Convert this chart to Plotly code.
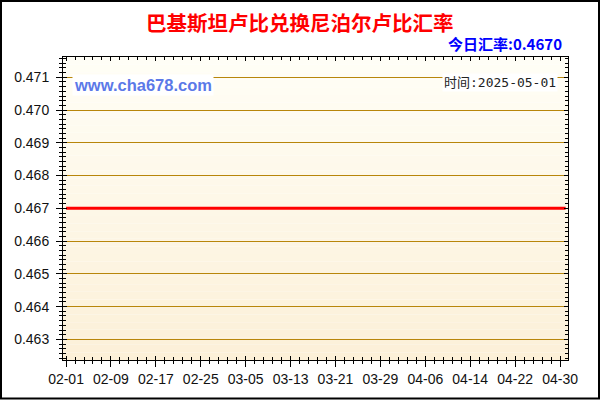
import plotly.graph_objects as go

# 巴基斯坦卢比兑换尼泊尔卢比汇率 (2025-02-01 ~ 2025-05-01)
dates = ["2025-02-01", "2025-02-09", "2025-02-17", "2025-02-25", "2025-03-05",
         "2025-03-13", "2025-03-21", "2025-03-29", "2025-04-06", "2025-04-14",
         "2025-04-22", "2025-04-30", "2025-05-01"]
rates = [0.467, 0.467, 0.467, 0.467, 0.467, 0.467, 0.467,
         0.467, 0.467, 0.467, 0.467, 0.467, 0.467]
today_rate = "0.4670"
today_date = "2025-05-01"

W, H = 600, 400
L, R, T, B = 63, 32, 57, 40
pw, ph = W - L - R, H - T - B

def px_x(x):
    return (x - L) / pw

def px_y(y):
    return (H - B - y) / ph

font_main = "Liberation Sans, Arial, Noto Sans CJK SC"
font_cjk = "Noto Sans CJK SC, Liberation Sans"

xrange_ = ["2025-01-31 11:00", "2025-05-01 10:00"]
yrange_ = [0.46237, 0.47162]
day = 86400000

fig = go.Figure()
fig.add_trace(go.Scatter(x=dates, y=rates, mode="lines",
                         line=dict(color="#ff0000", width=3),
                         hoverinfo="skip", showlegend=False))
# dummy trace so the overlay axes (inner ticks) get drawn
fig.add_trace(go.Scatter(x=[dates[0]], y=[rates[0]], xaxis="x2", yaxis="y2",
                         mode="markers", marker=dict(opacity=0),
                         hoverinfo="skip", showlegend=False))

# gradient background as horizontal bands
shapes = []
n = 40
c0 = (255, 254, 246)
c1 = (252, 240, 216)
for i in range(n):
    t = i / (n - 1)
    col = tuple(round(c0[k] + (c1[k] - c0[k]) * t) for k in range(3))
    shapes.append(dict(type="rect", xref="paper", yref="paper",
                       x0=0, x1=1, y0=1 - (i + 1) / n, y1=1 - i / n,
                       fillcolor="rgb(%d,%d,%d)" % col, line=dict(width=0),
                       layer="below"))
# outer frame of the picture
shapes.append(dict(type="rect", xref="paper", yref="paper",
                   x0=px_x(1), x1=px_x(599), y0=px_y(398.5), y1=px_y(1),
                   line=dict(color="black", width=2)))

fig.update_layout(
    width=W, height=H,
    margin=dict(l=L, r=R, t=T, b=B),
    paper_bgcolor="white",
    plot_bgcolor="rgba(0,0,0,0)",
    shapes=shapes,
    showlegend=False,
    xaxis=dict(type="date", range=xrange_, tick0="2025-02-01", dtick=8 * day,
               tickformat="%m-%d", ticks="outside", ticklen=6, tickcolor="black",
               tickfont=dict(family=font_main, size=14, color="#111"),
               showgrid=False, showline=True, linecolor="black", linewidth=1,
               zeroline=False,
               minor=dict(ticks="outside", ticklen=3, tickcolor="black",
                          tick0="2025-02-01", dtick=8 * day / 5)),
    yaxis=dict(range=yrange_, tick0=0.463, dtick=0.001, tickformat=".3f",
               ticks="outside", ticklen=6, tickcolor="black", ticklabelstandoff=4,
               tickfont=dict(family=font_main, size=14, color="#111"),
               showgrid=True, gridcolor="#b8860b", gridwidth=1,
               showline=True, linecolor="black", linewidth=1, zeroline=False,
               minor=dict(ticks="outside", ticklen=3, tickcolor="black",
                          tick0=0.463, dtick=0.001 / 7, showgrid=False)),
    xaxis2=dict(type="date", overlaying="x", range=xrange_, tick0="2025-02-01",
                dtick=8 * day, ticks="inside", ticklen=4, tickcolor="black",
                showticklabels=False, showgrid=False, showline=True,
                linecolor="black", mirror="ticks", zeroline=False,
                minor=dict(ticks="inside", ticklen=3, tickcolor="black",
                           tick0="2025-02-01", dtick=8 * day / 5)),
    yaxis2=dict(overlaying="y", range=yrange_, tick0=0.463, dtick=0.001,
                ticks="inside", ticklen=4, tickcolor="black",
                showticklabels=False, showgrid=False, showline=True,
                linecolor="black", mirror="ticks", zeroline=False,
                minor=dict(ticks="inside", ticklen=3, tickcolor="black",
                           tick0=0.463, dtick=0.001 / 7)),
)

fig.add_annotation(text="<b>巴基斯坦卢比兑换尼泊尔卢比汇率</b>", xref="paper", yref="paper",
                   x=px_x(300), y=px_y(22), xanchor="center", yanchor="middle",
                   showarrow=False, font=dict(family=font_cjk, size=20.5, color="#ff0000"))
fig.add_annotation(text="<b>今日汇率:" + today_rate + "</b>", xref="paper", yref="paper",
                   x=px_x(564), y=px_y(43), xanchor="right", yanchor="middle",
                   showarrow=False, font=dict(family=font_cjk, size=15, color="#0000ff"))
fig.add_annotation(text="<b>www.cha678.com</b>", xref="paper", yref="paper",
                   x=px_x(143), y=px_y(85), xanchor="center", yanchor="middle",
                   showarrow=False, bgcolor="white", borderpad=1,
                   font=dict(family=font_main, size=16.5, color="#5b79e8"))
fig.add_annotation(text="时间:" + today_date, xref="paper", yref="paper",
                   x=px_x(558), y=px_y(82), xanchor="right", yanchor="middle",
                   showarrow=False, bgcolor="white", borderpad=1,
                   font=dict(family="DejaVu Sans Mono, Noto Sans CJK SC", size=13,
                             color="#222"))

# page body has a default margin; drop it so the figure sits at 0,0
fig.write_html("out.html", config={"displayModeBar": False},
               post_script="document.body.style.margin='0';")
